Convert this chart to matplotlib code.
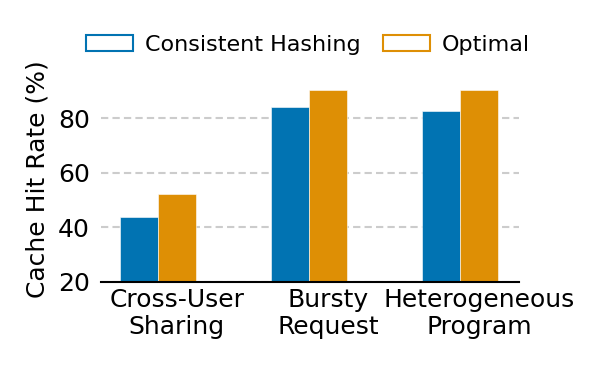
import numpy as np
from matplotlib import pyplot as plt
from matplotlib.patches import Patch

categories = ['Cross-User\nSharing', 'Bursty\nRequest', 'Heterogeneous\nProgram']
consistent = [43.6, 84.1, 82.5]
optimal = [52.2, 90.5, 90.5]
colors = ['#0173b2', '#de8f05']

fig = plt.figure(figsize=(5.98, 3.7), dpi=100)
ax = fig.add_axes([101 / 598, 1 - 281.5 / 370, 418 / 598, 204 / 370])

x = np.arange(len(categories))
w = 0.25
ax.bar(x - w / 2, consistent, w, color=colors[0], edgecolor='white', linewidth=0.4, zorder=3)
ax.bar(x + w / 2, optimal, w, color=colors[1], edgecolor='white', linewidth=0.4, zorder=3)

ax.set_xlim(-0.377, 2.39)
ax.set_ylim(20, 95)
ax.set_yticks([20, 40, 60, 80])
ax.set_xticks(x + w / 2)
ax.set_xticklabels(categories, fontsize=18, linespacing=1.12)
ax.tick_params(axis='y', labelsize=18, length=0, pad=8)
ax.tick_params(axis='x', length=0, pad=5)
ax.set_ylabel('Cache Hit Rate (%)', fontsize=18, labelpad=6)

ax.yaxis.grid(True, linestyle=(0, (3.5, 2)), color='#cccccc', linewidth=1.5, zorder=0)
for s in ['top', 'right', 'left']:
    ax.spines[s].set_visible(False)
ax.spines['bottom'].set_linewidth(1.5)
ax.spines['bottom'].set_zorder(4)

handles = [Patch(facecolor='white', edgecolor=colors[0], linewidth=1.5, label='Consistent Hashing'),
           Patch(facecolor='white', edgecolor=colors[1], linewidth=1.5, label='Optimal')]
fig.legend(handles=handles, loc='center', bbox_to_anchor=(308 / 598, 1 - 45 / 370), ncol=2,
           frameon=False, fontsize=16, handlelength=2.1, handletextpad=0.55, columnspacing=1.0)

fig.savefig('out.png', dpi=100)
